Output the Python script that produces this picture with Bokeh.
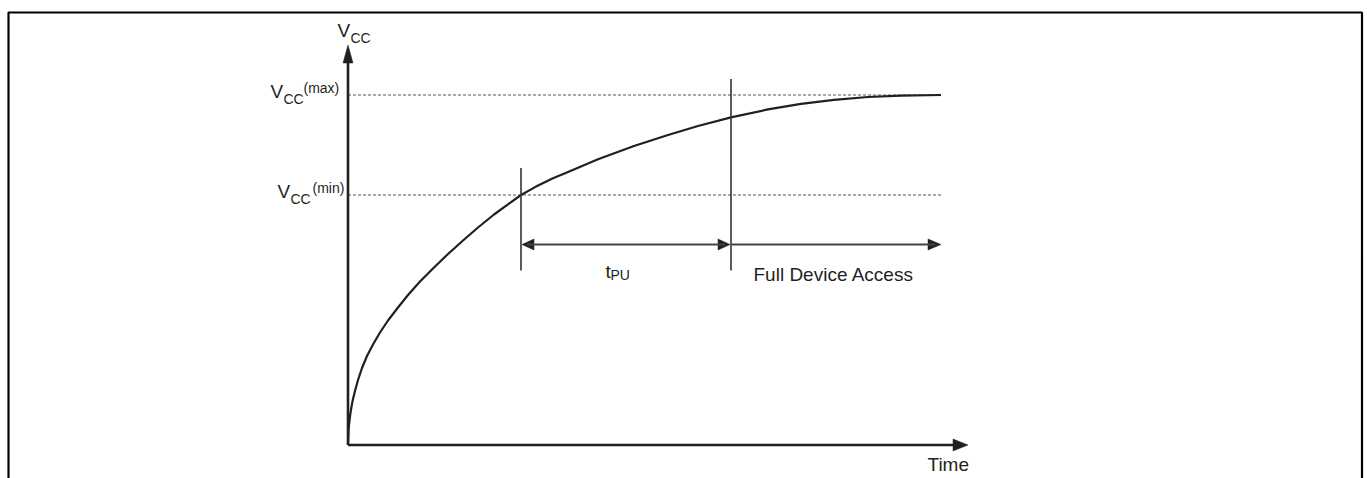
from bokeh.plotting import figure
from bokeh.models import Range1d
from bokeh.core.properties import value
from bokeh.embed import file_html
from bokeh.resources import INLINE

# ---- data (time in arbitrary units, voltage in arbitrary units) ----
time_pts = [0, 0.5, 1.2, 2.2, 3.5, 5, 7, 10, 14, 19, 25, 32, 40, 50, 60, 72, 86, 100, 115, 130,
            146, 160, 173, 188, 205, 220, 250, 286, 320, 350, 383, 420, 453, 486, 520, 553, 593]
vcc_pts = [0, 14, 22, 30, 38.5, 46, 54, 65, 77, 89, 100.5, 112.5, 124.5, 137.5, 150, 163.5, 177.5, 191, 204.5, 217.5,
           230.5, 240.7, 250, 258.4, 266.8, 273, 285.8, 299, 310, 319, 327.6, 335.6, 341.2, 345.2, 348, 349.4, 350]
VCC_MAX = 350
VCC_MIN = 250
T_MIN = 173      # curve crosses Vcc(min)
T_FULL = 383     # end of tPU
T_END = 593      # end of curve / full access arrow
T_AXIS_END = 620
V_AXIS_END = 400
ARROW_LEVEL = 200.5
MARK_BOTTOM = 174.5
MARK_TOP_MIN = 277
MARK_TOP_FULL = 366

INK = "#231f20"
FONT = value("Liberation Sans")

X0, X1 = -347.5, 1019.5
Y0, Y1 = -33.5, 444.5

p = figure(width=1367, height=478, x_range=Range1d(X0, X1), y_range=Range1d(Y0, Y1),
           output_backend="svg", toolbar_location=None, min_border=0,
           x_axis_location=None, y_axis_location=None)
p.grid.visible = False
p.outline_line_color = None
p.background_fill_color = "white"
p.border_fill_color = "white"

# outer frame (no bottom edge)
p.line([X0 + 8, X0 + 8, X1 - 5.5, X1 - 5.5], [Y0, Y1 - 12, Y1 - 12, Y0], line_color="black", line_width=2.2)

# dashed reference levels
p.segment(x0=[0, 0], y0=[VCC_MAX, VCC_MIN], x1=[T_END, T_END], y1=[VCC_MAX, VCC_MIN],
          line_color="#555555", line_width=1, line_dash="3 2")

# rising Vcc curve
p.line(time_pts, vcc_pts, line_color=INK, line_width=2.2, line_join="round")

# axes
p.segment(x0=[0, 0], y0=[0, 0], x1=[0, T_AXIS_END - 10], y1=[V_AXIS_END - 10, 0], line_color=INK, line_width=2.6)

def head(tx, ty, dx, dy, length, width):
    # triangle with tip at (tx, ty) pointing in direction (dx, dy)
    bx, by = tx - dx * length, ty - dy * length
    px, py = -dy * width / 2, dx * width / 2
    return [tx, bx + px, bx - px], [ty, by + py, by - py]

heads = [head(0, V_AXIS_END, 0, 1, 18, 10),
         head(T_AXIS_END, 0, 1, 0, 15, 12),
         head(T_MIN + 1, ARROW_LEVEL, -1, 0, 12, 11),
         head(T_FULL - 1, ARROW_LEVEL, 1, 0, 12, 11),
         head(T_END, ARROW_LEVEL, 1, 0, 13, 11)]
p.patches([h[0] for h in heads], [h[1] for h in heads], fill_color=INK, line_color=INK, line_width=0.5)

# timing marks
p.segment(x0=[T_MIN, T_FULL], y0=[MARK_BOTTOM, MARK_BOTTOM], x1=[T_MIN, T_FULL], y1=[MARK_TOP_MIN, MARK_TOP_FULL],
          line_color="#333333", line_width=1.6)
# horizontal arrows
p.segment(x0=[T_MIN + 6, T_FULL], y0=[ARROW_LEVEL, ARROW_LEVEL], x1=[T_FULL - 6, T_END - 6], y1=[ARROW_LEVEL, ARROW_LEVEL],
          line_color="#444444", line_width=2)

LIFT = 5

def txt(x, y, s, size):
    p.text(x=[x], y=[y + LIFT], text=[s], text_font=FONT, text_font_size=size, text_color=INK,
           text_align="left", text_baseline="alphabetic")

MAIN = "19px"
SUB = "14px"

# V_CC axis label
txt(-10.5, 409.5, "V", MAIN)
txt(2.5, 402.5, "CC", SUB)
# V_CC(max)
txt(-77.5, VCC_MAX - 1, "V", MAIN)
txt(-64.5, VCC_MAX - 9, "CC", SUB)
txt(-44.5, VCC_MAX + 2, "(max)", SUB)
# V_CC(min)
txt(-70.5, VCC_MIN - 1, "V", MAIN)
txt(-57.5, VCC_MIN - 9, "CC", SUB)
txt(-35.5, VCC_MIN + 2, "(min)", SUB)
# t_PU
txt(257.5, 168.5, "t", MAIN)
txt(262.5, 165, "PU", SUB)
# Full Device Access
txt(405.5, 165.5, "Full Device Access", MAIN)
# Time
txt(579.5, -24.5, "Time", MAIN)

open("out.html", "w").write(file_html(p, INLINE))
